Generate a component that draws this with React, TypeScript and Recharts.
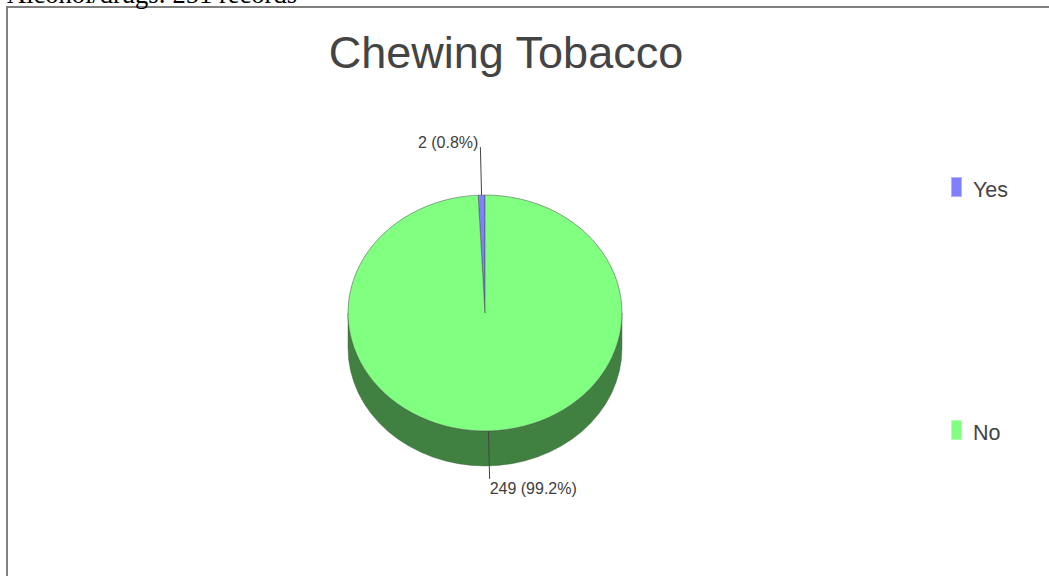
import React from 'react';
import { PieChart, Pie, Legend } from 'recharts';

const HEADER = 'Alcohol/drugs: 251 records';
const TITLE = 'Chewing Tobacco';
const categories = ['Yes', 'No'];
const counts = [2, 249];
const topColors = ['#8080ff', '#80ff80'];
const sideColors = ['#404080', '#408040'];

const data = categories.map((name, i) => ({ name, value: counts[i] }));

const Y_SCALE = 118 / 137;
const DEPTH = 35;
const LEAD = 48;

function slice3D(props: any) {
  const { cx, cy, outerRadius, startAngle, endAngle, midAngle, index, value, percent } = props;
  const rx = outerRadius;
  const ry = outerRadius * Y_SCALE;
  const p = (a: number, dy = 0, ex = 0) => {
    const r = (a * Math.PI) / 180;
    return [cx + (rx + ex) * Math.cos(r), cy - (ry + ex) * Math.sin(r) + dy];
  };
  const s = Math.min(startAngle, endAngle);
  const e = Math.max(startAngle, endAngle);
  const sides: React.ReactNode[] = [];
  [[180, 360], [540, 720]].forEach(([lo, hi], k) => {
    const a = Math.max(s, lo);
    const b = Math.min(e, hi);
    if (b > a) {
      const [x1, y1] = p(a);
      const [x2, y2] = p(b);
      const large = b - a > 180 ? 1 : 0;
      const d = `M${x1},${y1} A${rx},${ry} 0 ${large} 0 ${x2},${y2} L${x2},${y2 + DEPTH} A${rx},${ry} 0 ${large} 1 ${x1},${y1 + DEPTH} Z`;
      sides.push(<path key={'s' + k} d={d} fill={sideColors[index]} stroke="#3a5a3a" strokeWidth={0.4} />);
    }
  });
  const [sx, sy] = p(s);
  const [ex, ey] = p(e);
  const large = e - s > 180 ? 1 : 0;
  const top = `M${cx},${cy} L${sx},${sy} A${rx},${ry} 0 ${large} 0 ${ex},${ey} Z`;
  const [lx1, ly1] = p(midAngle);
  const [lx2, ly2] = p(midAngle, 0, LEAD);
  const upper = Math.sin((midAngle * Math.PI) / 180) > 0;
  const right = Math.cos((midAngle * Math.PI) / 180) >= 0;
  const txt = `${value} (${(percent * 100).toFixed(1)}%)`;
  return (
    <g>
      {sides}
      <path d={top} fill={topColors[index]} stroke="#4a4a4a" strokeWidth={0.5} />
      <line x1={lx1} y1={ly1} x2={lx2} y2={ly2} stroke="#444" strokeWidth={1} />
      <text
        x={right ? lx2 : lx2 - 2}
        y={upper ? ly2 + 1 : ly2 + 15.5}
        textAnchor={right ? 'start' : 'end'}
        fill="#404040"
        fontSize={16}
        fontFamily="'Liberation Sans', Arial, sans-serif"
      >
        {txt}
      </text>
    </g>
  );
}

const legendOffsets = [0, 243];

function LegendContent() {
  return (
    <div style={{ position: 'relative', width: 100, height: 300 }}>
      {categories.map((c, i) => (
        <div key={c} style={{ position: 'absolute', left: 0, top: legendOffsets[i], width: 100, height: 24 }}>
          <div style={{ position: 'absolute', left: 6, top: 7, width: 11, height: 20, background: topColors[i], boxSizing: 'border-box', border: '1px solid rgba(255,255,255,0.4)' }} />
          <div style={{ position: 'absolute', left: 28, top: 7.5, fontSize: 21.5, lineHeight: '24px', color: '#444', fontFamily: "'Liberation Sans', Arial, sans-serif", whiteSpace: 'nowrap' }}>{c}</div>
        </div>
      ))}
    </div>
  );
}

export default function App() {
  return (
    <div style={{ position: 'fixed', left: 0, top: 0, width: 1049, height: 576, overflow: 'hidden', background: '#fff' }}>
      <div style={{ position: 'absolute', left: 0, top: 0, width: 1049, height: 576 }}>
        <div style={{ position: 'absolute', left: 0, top: 28.2, width: 1012, textAlign: 'center', fontSize: 45, lineHeight: '50px', color: '#444', fontFamily: "'Liberation Sans', Arial, sans-serif" }}>
          {TITLE}
        </div>
        <PieChart width={1049} height={576} margin={{ top: 0, right: 0, bottom: 0, left: 0 }}>
          <Pie
            data={data}
            dataKey="value"
            nameKey="name"
            cx={485}
            cy={313}
            outerRadius={137}
            startAngle={90}
            endAngle={450}
            fill="transparent"
            stroke="none"
            labelLine={false}
            label={slice3D}
            isAnimationActive={false}
          />
          <Legend
            layout="vertical"
            align="right"
            verticalAlign="top"
            content={() => <LegendContent />}
            wrapperStyle={{ position: 'absolute', left: 945, top: 170, width: 100, height: 300 }}
          />
        </PieChart>
      </div>
      <div style={{ position: 'absolute', zIndex: 5, left: 6, top: 6, width: 1043, height: 570, boxSizing: 'border-box', borderLeft: '2px solid #808080', borderTop: '2px solid #808080', pointerEvents: 'none' }} />
      <div style={{ position: 'absolute', zIndex: 5, left: 7, top: -21.5, fontFamily: "'Liberation Serif', 'Times New Roman', serif", fontSize: 26.5, lineHeight: '30px', color: '#000', whiteSpace: 'nowrap' }}>
        {HEADER}
      </div>
    </div>
  );
}
